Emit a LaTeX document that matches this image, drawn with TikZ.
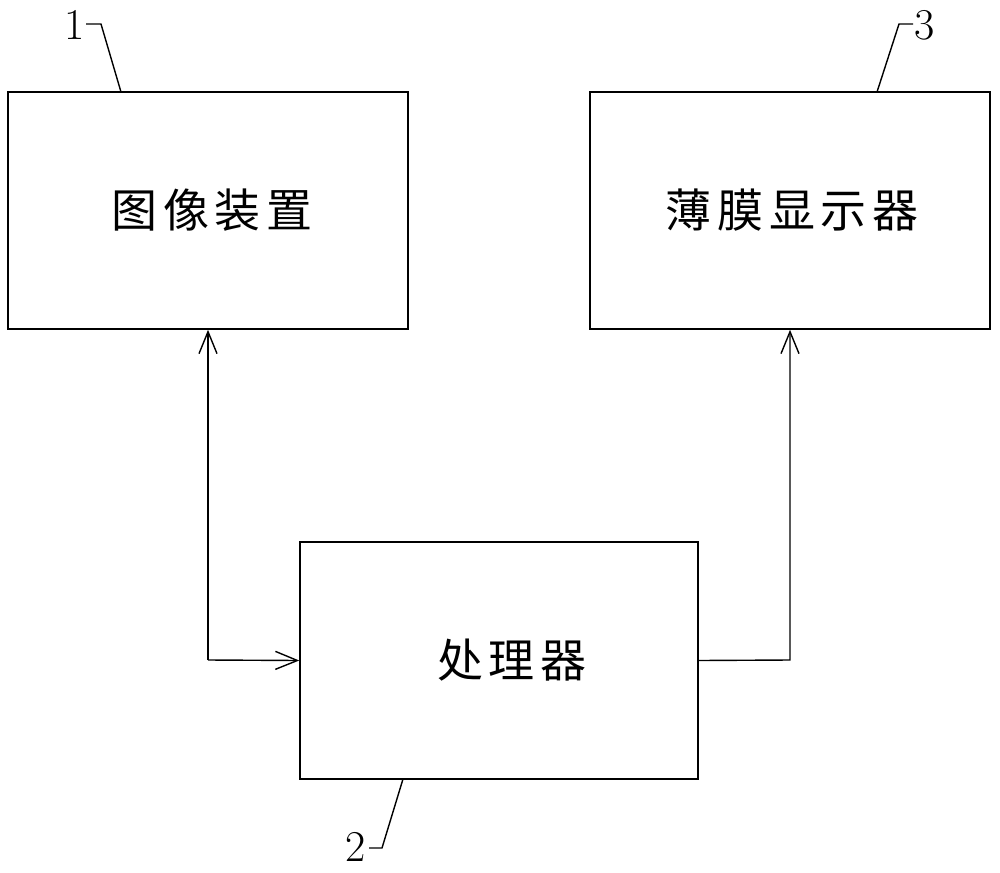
\documentclass[tikz,border=0pt]{standalone}
\usepackage{fontspec}
\newfontfamily\cjk{Noto Sans CJK SC}[LetterSpace=13]
\usetikzlibrary{arrows.meta}
\begin{document}
\begin{tikzpicture}[x=1pt,y=-1pt,
  blk/.style={draw,line width=1.6pt,minimum width=400pt,minimum height=237pt,inner sep=0pt,font=\cjk\fontsize{46}{48}\selectfont},
  conn/.style={line width=1.4pt,-{Straight Barb[length=22pt,width=18pt,line width=1.4pt]}},
  lead/.style={line width=1.4pt},
  num/.style={font=\fontsize{44}{46}\selectfont,inner sep=0pt}]
\useasboundingbox (0,0) rectangle (1000,872);
\node[blk] (b1) at (208,210.5) {\hspace*{8pt}图像装置};
\node[blk] (b3) at (790,210.5) {\hspace*{4pt}薄膜显示器};
\node[blk,minimum width=398pt] (b2) at (499,660.5) {\hspace*{26pt}处理器};
% connectors
\coordinate (c1) at (208,660);
\coordinate (c2) at (790,660);
\draw[conn] (c1) -- (b1.south);
\draw[conn] (c1) -- (b2.west);
\draw[conn] (b2.east) -- (c2) -- (b3.south);
% labels
\node[num] (n1) at (75,25) {1};
\node[num] (n3) at (925,25) {3};
\node[num] (n2) at (356,847) {2};
\coordinate (l1a) at (86,24);
\coordinate (l1b) at (101,24);
\coordinate (l1c) at (121,92);
\draw[lead] (l1a) -- (l1b) -- (l1c);
\coordinate (l3a) at (913,24);
\coordinate (l3b) at (899,24);
\coordinate (l3c) at (877,92);
\draw[lead] (l3a) -- (l3b) -- (l3c);
\coordinate (l2a) at (369,848);
\coordinate (l2b) at (382,848);
\coordinate (l2c) at (403,779);
\draw[lead] (l2a) -- (l2b) -- (l2c);
\end{tikzpicture}
\end{document}
